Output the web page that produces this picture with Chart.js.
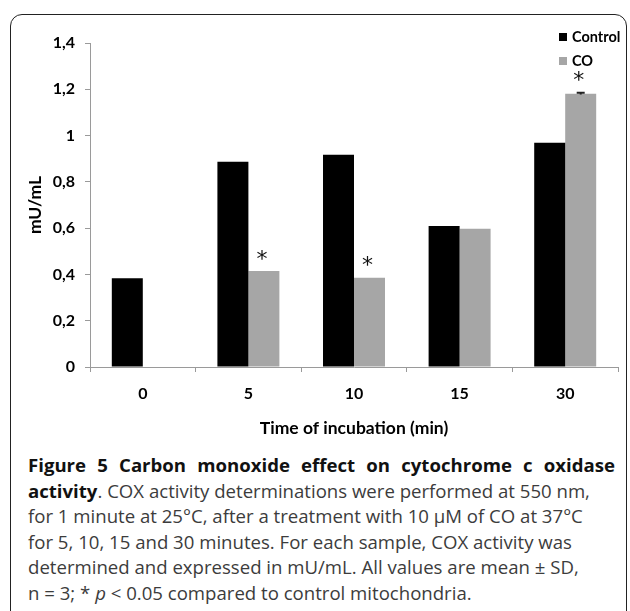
<!DOCTYPE html>
<html>
<head>
<meta charset="utf-8">
<script src="https://cdn.jsdelivr.net/npm/chart.js@4.4.1/dist/chart.umd.min.js"></script>
<style>
  body { margin: 0; background: #fff; width: 630px; height: 611px; overflow: hidden; position: relative; }
  #frame { position: absolute; left: 10px; top: 14px; width: 615px; height: 700px; border: 1.5px solid #222; border-radius: 12px; }
  #chartBox { position: absolute; left: 0; top: 0; width: 630px; height: 450px; }
  #caption { position: absolute; left: 28px; top: 452px; width: 587px; font-family: "Open Sans", sans-serif; font-size: 18.6px; line-height: 25.5px; color: #3c3c3c; white-space: nowrap; }
  #caption b { color: #111; }
  .justify { text-align: justify; text-align-last: justify; }
</style>
</head>
<body>
<div id="frame"></div>
<div id="chartBox"><canvas id="coxChart" width="630" height="450"></canvas></div>
<div id="caption">
  <div class="justify"><b>Figure 5 Carbon monoxide effect on cytochrome c oxidase</b></div>
  <div><b>activity</b>. COX activity determinations were performed at 550 nm,</div>
  <div>for 1 minute at 25°C, after a treatment with 10 μM of CO at 37°C</div>
  <div>for 5, 10, 15 and 30 minutes. For each sample, COX activity was</div>
  <div>determined and expressed in mU/mL. All values are mean ± SD,</div>
  <div>n = 3; * <i>p</i> &lt; 0.05 compared to control mitochondria.</div>
</div>
<script>
// 데이터
const categories = ['0', '5', '10', '15', '30'];
const controlValues = [0.383, 0.887, 0.917, 0.609, 0.969];
const coValues = [null, 0.415, 0.386, 0.597, 1.181];
const coSD = [0, 0, 0, 0, 0.004];
const coSignificant = [false, true, true, false, true];
const yTickLabels = ['0', '0,2', '0,4', '0,6', '0,8', '1', '1,2', '1,4'];

const axisFont = 'Lato, "Open Sans", sans-serif';

// 오차 막대 + 별표
const markersPlugin = {
    id: 'markers',
    afterDatasetsDraw(chart) {
        const ctx = chart.ctx;
        const yScale = chart.scales.y;
        const meta = chart.getDatasetMeta(1);
        ctx.save();
        meta.data.forEach((bar, i) => {
            if (coValues[i] == null) return;
            let top = bar.y;
            if (coSD[i] > 0) {
                const yHi = yScale.getPixelForValue(coValues[i] + coSD[i]);
                const yLo = yScale.getPixelForValue(coValues[i] - coSD[i]);
                ctx.strokeStyle = '#222';
                ctx.lineWidth = 2;
                ctx.beginPath();
                ctx.moveTo(bar.x - 4, yHi); ctx.lineTo(bar.x + 4, yHi);
                ctx.moveTo(bar.x, yHi); ctx.lineTo(bar.x, yLo);
                ctx.stroke();
                top = yHi;
            }
            if (coSignificant[i]) {
                ctx.fillStyle = '#111';
                ctx.font = '22px "DejaVu Sans", sans-serif';
                ctx.textAlign = 'center';
                ctx.textBaseline = 'middle';
                ctx.fillText('*', bar.x - 2, top - 11);
            }
        });
        ctx.restore();
    }
};

// 범례 (그래프 오른쪽 위)
const legendPlugin = {
    id: 'cornerLegend',
    afterDraw(chart) {
        const ctx = chart.ctx;
        ctx.save();
        ctx.font = 'bold 14.5px ' + axisFont;
        ctx.textAlign = 'left';
        ctx.textBaseline = 'middle';
        chart.data.datasets.forEach((ds, i) => {
            const y = 37 + i * 24;
            ctx.fillStyle = ds.backgroundColor;
            ctx.fillRect(559, y - 4, 8, 8);
            ctx.fillStyle = '#000';
            ctx.fillText(ds.label, 572, y);
        });
        ctx.restore();
    }
};

const ctx = document.getElementById('coxChart').getContext('2d');
const coxChart = new Chart(ctx, {
    type: 'bar',
    data: {
        labels: categories,
        datasets: [
            { label: 'Control', data: controlValues, backgroundColor: '#000000' },
            { label: 'CO', data: coValues, backgroundColor: '#a6a6a6' }
        ]
    },
    options: {
        responsive: false,
        animation: false,
        events: [],
        layout: { padding: { top: 43, right: 12, left: 0, bottom: 0 } },
        datasets: { bar: { categoryPercentage: 0.587, barPercentage: 1.0 } },
        plugins: {
            legend: { display: false },
            tooltip: { enabled: false }
        },
        scales: {
            x: {
                grid: { drawOnChartArea: false, tickLength: 5, color: '#9a9a9a' },
                border: { color: '#9a9a9a', width: 1 },
                ticks: { color: '#000', padding: 12, font: { family: axisFont, size: 16, weight: 'bold' } },
                title: {
                    display: true,
                    text: 'Time of incubation (min)',
                    color: '#000',
                    font: { family: axisFont, size: 17.5, weight: 'bold' },
                    padding: { top: 0, bottom: 11 }
                },
                afterFit(scale) { scale.height = 83; }
            },
            y: {
                min: 0,
                max: 1.4,
                grid: { drawOnChartArea: false, tickLength: 5, color: '#9a9a9a' },
                border: { color: '#9a9a9a', width: 1 },
                ticks: {
                    stepSize: 0.2,
                    color: '#000',
                    padding: 10,
                    font: { family: axisFont, size: 16, weight: 'bold' },
                    callback: (v, i) => yTickLabels[i]
                },
                title: {
                    display: true,
                    text: 'mU/mL',
                    color: '#000',
                    font: { family: axisFont, size: 17.5, weight: 'bold' },
                    padding: { top: 25, bottom: 0 }
                },
                afterFit(scale) { scale.width = 90; }
            }
        }
    },
    plugins: [markersPlugin, legendPlugin]
});
</script>
</body>
</html>
